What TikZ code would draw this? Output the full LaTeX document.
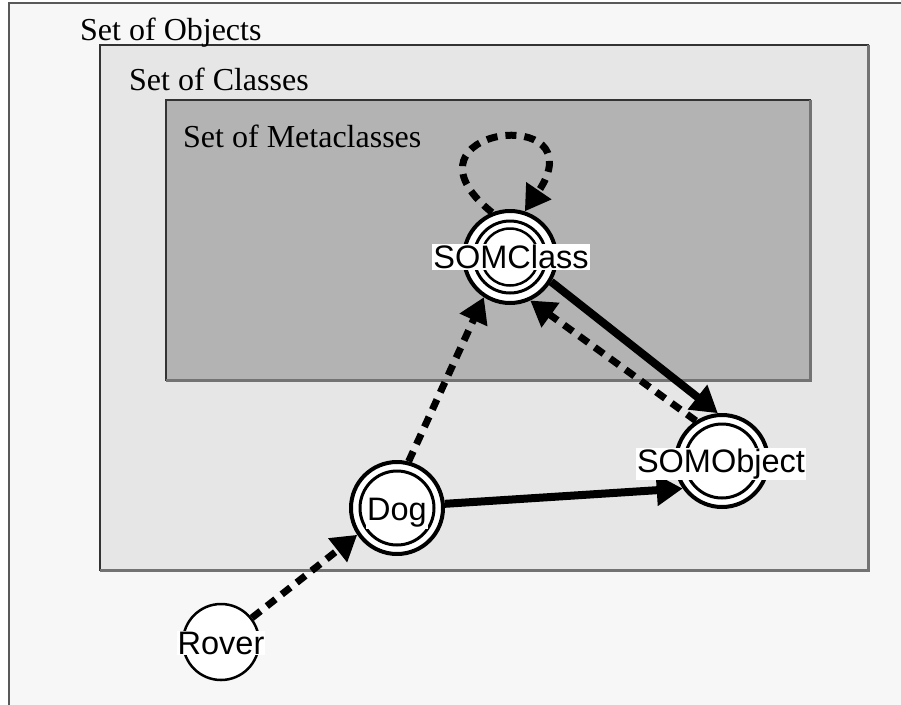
\documentclass[tikz,border=0pt]{standalone}
\usepackage{fontspec}
\setmainfont{Liberation Serif}
\setsansfont{Liberation Sans}
\usetikzlibrary{arrows.meta}

\definecolor{objfill}{HTML}{F7F7F7}
\definecolor{classfill}{HTML}{E6E6E6}
\definecolor{metafill}{HTML}{B3B3B3}

\tikzset{
    setbox/.style={draw=black!80, line width=1.2pt},
    setshadow/.style={draw=black!55, line width=3pt},
    settitle/.style={anchor=base west, inner sep=0pt, font=\fontsize{32}{38}\selectfont},
    onering/.style={circle, draw, line width=2.5pt, fill=white, minimum size=76pt, inner sep=0pt},
    tworing/.style={circle, draw, line width=4pt, fill=white, minimum size=92pt, inner sep=0pt,
        path picture={\draw[line width=3pt] (path picture bounding box.center) circle[radius=37pt];}},
    threering/.style={tworing,
        path picture={\draw[line width=3pt] (path picture bounding box.center) circle[radius=36pt];
                      \draw[line width=2.5pt] (path picture bounding box.center) circle[radius=28.5pt];}},
    objlabel/.style={fill=white, inner sep=1pt, font=\sffamily\fontsize{32.5}{37}\selectfont},
    instof/.style={line width=7pt, dash pattern=on 11pt off 8pt, -{Triangle[length=25pt,width=29pt]}},
    subof/.style={line width=8pt, -{Triangle[length=26pt,width=30pt]}},
}

\begin{document}
\begin{tikzpicture}[x=1pt,y=-1pt]
    \useasboundingbox (0,0) rectangle (901,704);
    % nested sets
    \path[setbox, draw=black!65, line width=2pt, fill=objfill] (9,3) rectangle (910,710);
    \path[setbox, fill=classfill] (100,45) rectangle (868,570);
    \draw[setshadow] (868,45) -- (868,570) -- (100,570);
    \path[setbox, fill=metafill] (166,100) rectangle (810,380);
    \draw[setshadow] (810,100) -- (810,380) -- (166,380);
    \node[settitle] (objtitle) at (80,40) {Set of Objects};
    \node[settitle] (classtitle) at (129,90) {Set of Classes};
    \node[settitle] (metatitle) at (183,147) {Set of Metaclasses};

    % objects
    \node[threering] (SOMClass) at (510,257) {};
    \node[tworing] (SOMObject) at (722,461) {};
    \node[tworing] (Dog) at (397,508) {};
    \node[onering] (Rover) at (221,642) {};

    % relations
    \draw[instof] (SOMClass.112) .. controls +(-105,-85) and +(75,-110) .. (SOMClass.72);
    \draw[instof] (SOMObject.123) -- (SOMClass.-65);
    \draw[subof] (SOMClass.-31) -- (SOMObject.95);
    \draw[instof] (Dog.76) -- (SOMClass.237);
    \draw[subof] (Dog.5) -- (SOMObject.215);
    \draw[instof] (Rover.38) -- (Dog.214);

    % labels
    \node[objlabel] (SOMClasstext) at (511,257) {SOMClass\ };
    \node[objlabel] (SOMObjecttext) at (721,464) {SOMObject\ };
    \node[objlabel] (Dogtext) at (397,513) {Dog};
    \node[objlabel] (Rovertext) at (221,643) {Rover\ };
\end{tikzpicture}
\end{document}
